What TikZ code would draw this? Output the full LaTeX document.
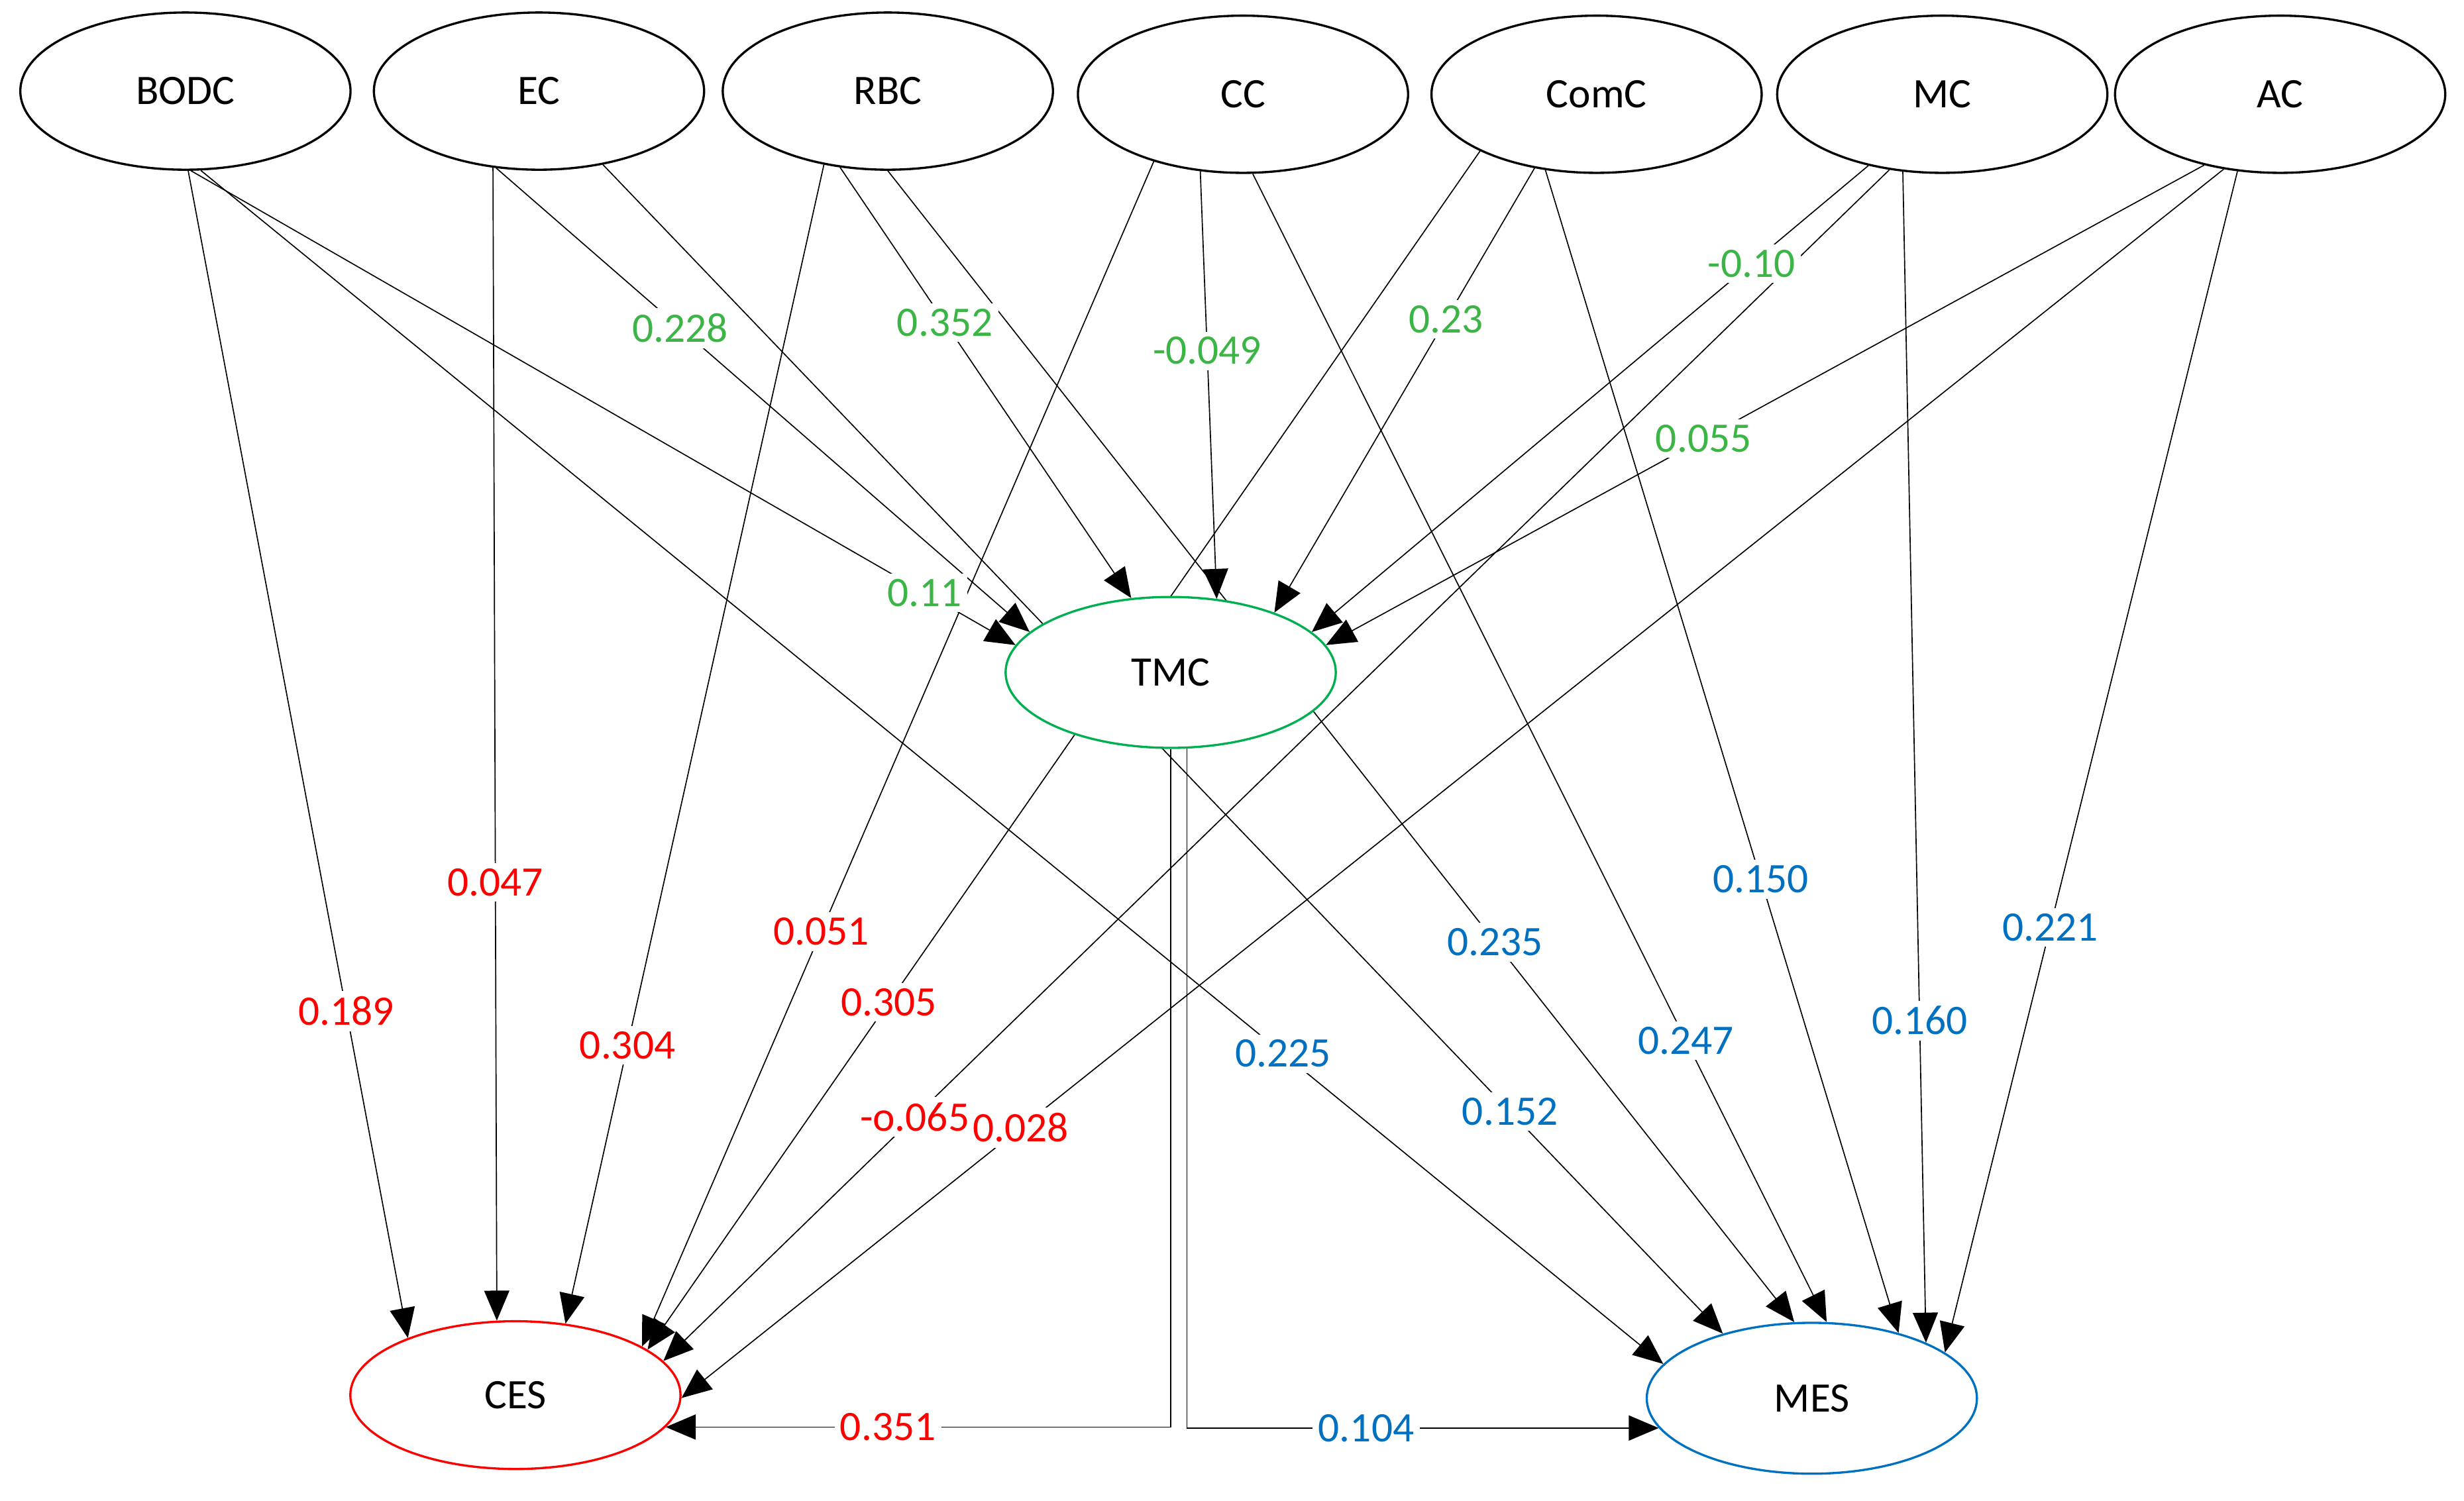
\documentclass[tikz,border=0pt]{standalone}
\usepackage{fontspec}
\setmainfont{Carlito}
\usetikzlibrary{arrows, positioning, backgrounds, shapes.geometric}
\definecolor{cesred}{RGB}{255,0,0}
\definecolor{tmcgreen}{RGB}{0,176,80}
\definecolor{mesblue}{RGB}{0,112,192}
\definecolor{lblgreen}{RGB}{60,180,70}

\begin{document}
\begin{tikzpicture}[
    x=0.01cm, y=-0.01cm,
    font=\fontsize{7.6}{9}\selectfont,
    construct/.style=
        {ellipse, draw, thin, minimum width=2.1cm, minimum height=1.0cm, fill=white},
    effect/.style={-triangle 45, very thin},
    coef/.style={fill=white, inner sep=1pt}]
    \useasboundingbox (0,0) rectangle (1568,955);
    % exogenous constructs
    \node [construct] (BODC) at (118,58) {BODC};
    \node [construct] (EC) at (343,58) {EC};
    \node [construct] (RBC) at (565,58) {RBC};
    \node [construct] (CC) at (791,60) {CC};
    \node [construct] (ComC) at (1016,60) {ComC};
    \node [construct] (MC) at (1236,60) {MC};
    \node [construct] (AC) at (1451,60) {AC};
    % mediator and outcomes
    \node [construct, draw=tmcgreen, minimum height=0.96cm] (TMC) at (745,428) {TMC};
    \node [construct, draw=cesred, minimum height=0.94cm] (CES) at (328,888) {CES};
    \node [construct, draw=mesblue, minimum height=0.96cm] (MES) at (1153,890) {MES};

    \def\pathlist{
        BODC.-88/CES.152/0.72/cesred/0.189,
        BODC.-86/TMC.170/0.89/lblgreen/0.11,
        BODC.-79/MES.167/0.74/mesblue/0.225,
        EC.-121/CES.104/0.62/cesred/0.047,
        EC.-119/TMC.164/0.345/lblgreen/0.228,
        EC.-49/MES.144/0.81/mesblue/0.152,
        RBC.-131/CES.55/0.76/cesred/0.304,
        RBC.-122/TMC.118/0.36/lblgreen/0.352,
        RBC.-90/MES.103/0.67/mesblue/0.235,
        CC.-143/CES.21/0.65/cesred/0.051,
        CC.-119/TMC.58/0.42/lblgreen/-0.049,
        CC.-83/MES.79/0.755/mesblue/0.247,
        ComC.-154/CES.19/0.71/cesred/0.305,
        ComC.-130/TMC.30/0.34/lblgreen/0.23,
        ComC.-124/MES.37/0.61/mesblue/0.150,
        MC.-125/CES.13/0.795/cesred/-o.065,
        MC.-136/TMC.16/0.21/lblgreen/-0.10,
        MC.-117/MES.26/0.725/mesblue/0.160,
        AC.-127/CES.-1/0.78/cesred/0.028,
        AC.-137/TMC.10/0.57/lblgreen/0.055,
        AC.-119/MES.19/0.64/mesblue/0.221}

    \begin{scope}[on background layer]
        \foreach \from/\to/\p/\col/\val in \pathlist
            \draw [effect] (\from) -- (\to);
        \draw [effect] (TMC.-90) |- (CES.-12);
        \draw [effect] (TMC.-78) |- (MES.191);
        \foreach \from/\to/\p/\col/\val in \pathlist
            \path (\from) -- (\to) node [coef, text=\col, pos=\p] {\val};
        \path (TMC.-90) |- (CES.-12)
            node [coef, text=cesred, pos=0.78] {0.351};
        \path (TMC.-78) |- (MES.191)
            node [coef, text=mesblue, pos=0.69] {0.104};
    \end{scope}
\end{tikzpicture}
\end{document}
